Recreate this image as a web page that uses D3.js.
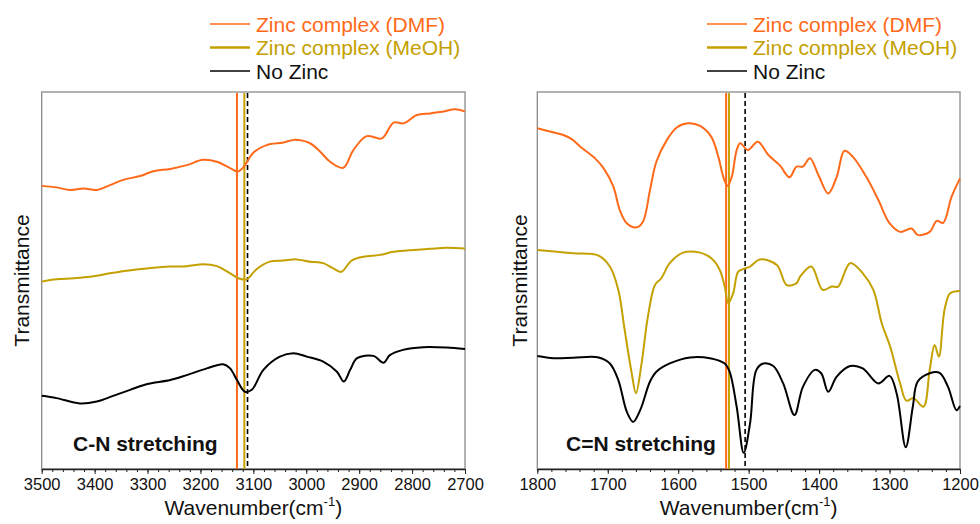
<!DOCTYPE html>
<html>
<head>
<meta charset="utf-8">
<script src="https://d3js.org/d3.v7.min.js"></script>
<style>
  body { margin: 0; background: #fff; }
  text { font-family: "Liberation Sans", Arial, sans-serif; }
</style>
</head>
<body>
<script>
var width = 980, height = 524;

// series names and colours
var seriesNames = ["Zinc complex (DMF)", "Zinc complex (MeOH)", "No Zinc"];
var seriesColors = ["#ff6a1a", "#c4a000", "#000000"];

// C-N stretching panel, [wavenumber, transmittance (a.u.)]
var cnDmf = [[3500,75.1],[3472,74.7],[3446,74.0],[3421,74.4],[3396,74.0],[3371,75.3],[3346,76.7],[3314,77.7],[3289,79.0],[3257,79.6],[3226,80.6],[3195,82.0],[3169,81.5],[3144,79.8],[3130,78.9],[3119,80.0],[3100,83.9],[3075,85.9],[3043,86.6],[3024,87.3],[2993,86.4],[2974,84.2],[2955,81.5],[2930,79.9],[2911,84.6],[2886,88.3],[2857,87.7],[2835,91.9],[2816,91.7],[2791,93.9],[2766,94.3],[2741,94.8],[2719,95.4],[2700,94.8]];
var cnMeoh = [[3500,49.7],[3472,50.3],[3440,50.6],[3409,51.0],[3371,51.9],[3339,52.6],[3302,53.2],[3257,53.7],[3226,53.8],[3195,54.3],[3169,53.8],[3144,51.9],[3128,50.6],[3113,50.3],[3094,53.0],[3069,55.0],[3043,55.3],[3018,55.6],[2993,55.0],[2968,54.6],[2949,53.2],[2934,52.3],[2914,55.3],[2892,56.3],[2861,56.8],[2835,57.6],[2798,58.1],[2766,58.4],[2735,58.7],[2700,58.5]];
var cnNoZn = [[3500,19.4],[3472,18.8],[3428,17.4],[3396,17.9],[3365,19.4],[3333,21.0],[3302,22.5],[3257,23.6],[3226,24.9],[3188,26.7],[3157,27.8],[3144,26.7],[3131,23.6],[3116,20.5],[3103,21.0],[3081,26.3],[3050,29.8],[3024,30.7],[2999,29.8],[2968,28.5],[2942,25.8],[2929,23.2],[2917,26.3],[2904,29.4],[2873,30.0],[2854,28.2],[2842,30.2],[2817,31.6],[2779,32.3],[2735,32.2],[2700,31.8]];
var cnMarkers = [3131, 3117, 3111];

// C=N stretching panel
var ccDmf = [[1800,90.4],[1782,89.5],[1763,88.6],[1751,87.5],[1739,85.5],[1718,82.4],[1706,79.8],[1692,74.9],[1683,68.7],[1673,65.2],[1659,64.1],[1650,65.6],[1640,74.0],[1631,81.5],[1616,87.3],[1602,90.6],[1586,91.7],[1569,91.0],[1553,88.1],[1543,82.8],[1536,77.5],[1530,75.1],[1524,77.5],[1517,84.6],[1512,86.4],[1501,84.6],[1487,86.8],[1472,83.3],[1456,80.6],[1442,77.4],[1432,80.2],[1423,80.2],[1413,82.4],[1401,78.0],[1387,73.1],[1375,77.5],[1364,84.4],[1352,82.8],[1333,77.5],[1316,71.4],[1300,65.2],[1285,62.9],[1269,63.8],[1260,62.1],[1243,62.9],[1233,65.8],[1224,65.3],[1212,72.2],[1200,77.1]];
var ccMeoh = [[1800,58.1],[1772,57.6],[1749,57.2],[1713,56.6],[1697,53.7],[1685,47.5],[1676,36.9],[1666,25.4],[1660,20.1],[1652,28.0],[1643,40.4],[1633,48.8],[1624,50.6],[1612,54.6],[1593,57.4],[1569,57.4],[1553,55.9],[1541,52.8],[1534,48.4],[1529,44.0],[1522,46.6],[1515,52.3],[1508,53.0],[1498,53.7],[1484,55.6],[1460,54.1],[1446,48.8],[1432,49.3],[1427,51.0],[1411,53.7],[1395,47.5],[1382,48.4],[1373,48.4],[1356,54.6],[1338,51.9],[1323,47.5],[1311,38.6],[1299,32.4],[1285,22.7],[1276,18.1],[1266,18.8],[1252,16.5],[1243,26.3],[1236,32.9],[1230,29.8],[1222,42.2],[1214,46.6],[1200,47.2]];
var ccNoZn = [[1800,30.0],[1777,29.4],[1749,29.5],[1713,29.6],[1697,28.0],[1685,23.6],[1673,15.2],[1664,12.5],[1654,15.6],[1640,23.2],[1631,25.8],[1612,28.0],[1583,29.6],[1555,29.4],[1534,28.0],[1527,25.8],[1517,16.5],[1507,4.3],[1498,12.1],[1489,26.3],[1479,28.0],[1465,27.3],[1451,22.7],[1435,14.3],[1423,21.8],[1406,26.3],[1397,25.4],[1387,20.5],[1375,24.5],[1356,27.3],[1338,26.7],[1316,22.7],[1300,24.7],[1290,20.1],[1277,5.8],[1267,16.5],[1260,23.2],[1243,25.4],[1229,25.5],[1217,21.8],[1205,15.6],[1200,16.7]];
var ccMarkers = [1532, 1528, 1505];

var panels = [
  { x0: 41.7, x1: 465, domain: [3500, 2700], series: [cnDmf, cnMeoh, cnNoZn], markers: cnMarkers,
    note: "C-N stretching", noteX: 73, yLabelX: 22, legendX: 210 },
  { x0: 537.3, x1: 960, domain: [1800, 1200], series: [ccDmf, ccMeoh, ccNoZn], markers: ccMarkers,
    note: "C=N stretching", noteX: 566, yLabelX: 520, legendX: 707 }
];

var plotTop = 92, plotBottom = 469;

var svg = d3.select("body").append("svg")
  .attr("width", width)
  .attr("height", height);

var y = d3.scaleLinear().domain([0, 100]).range([plotBottom, plotTop]);

panels.forEach(function(p) {
  var x = d3.scaleLinear().domain(p.domain).range([p.x0, p.x1]);
  var g = svg.append("g");

  // frame
  g.append("rect")
    .attr("x", p.x0).attr("y", plotTop)
    .attr("width", p.x1 - p.x0).attr("height", plotBottom - plotTop)
    .attr("fill", "none").attr("stroke", "#8a8a8a").attr("stroke-width", 1.3);

  // minor ticks
  var lo = Math.min(p.domain[0], p.domain[1]), hi = Math.max(p.domain[0], p.domain[1]);
  g.append("g")
    .attr("transform", "translate(0," + plotBottom + ")")
    .call(d3.axisBottom(x).tickValues(d3.range(lo, hi + 1, 20)).tickSize(3).tickFormat(""))
    .call(function(a) { a.select(".domain").remove(); a.selectAll("line").attr("stroke", "#222"); });

  // major ticks and labels
  var ax = g.append("g")
    .attr("transform", "translate(0," + plotBottom + ")")
    .call(d3.axisBottom(x).tickValues(d3.range(lo, hi + 1, 100)).tickSize(5).tickSizeOuter(0).tickPadding(4).tickFormat(d3.format("d")));
  ax.select(".domain").attr("stroke", "#222").attr("stroke-width", 1.3);
  ax.selectAll("line").attr("stroke", "#222");
  ax.selectAll("text").attr("font-size", 16.5).attr("fill", "#111")
    .style("font-family", "'Liberation Sans', Arial, sans-serif");

  // axis titles
  var xt = g.append("text")
    .attr("x", (p.x0 + p.x1) / 2).attr("y", 515)
    .attr("text-anchor", "middle").attr("font-size", 21).attr("fill", "#111")
    .text("Wavenumber(cm");
  xt.append("tspan").attr("font-size", 13).attr("dy", -9).text("-1");
  xt.append("tspan").attr("dy", 9).text(")");

  g.append("text")
    .attr("transform", "translate(" + (p.yLabelX + 7) + "," + ((plotTop + plotBottom) / 2) + ") rotate(-90)")
    .attr("text-anchor", "middle").attr("font-size", 21).attr("fill", "#111")
    .text("Transmittance");

  // marker lines
  p.markers.forEach(function(m, i) {
    g.append("line")
      .attr("x1", x(m)).attr("x2", x(m))
      .attr("y1", plotTop + 1).attr("y2", plotBottom)
      .attr("stroke", seriesColors[i])
      .attr("stroke-width", i === 2 ? 1.6 : 2)
      .attr("stroke-dasharray", i === 2 ? "5,3" : null);
  });

  // spectra
  var line = d3.line()
    .x(function(d) { return x(d[0]); })
    .y(function(d) { return y(d[1]); })
    .curve(d3.curveCatmullRom.alpha(0.5));

  p.series.forEach(function(s, i) {
    g.append("path")
      .datum(s)
      .attr("d", line)
      .attr("fill", "none")
      .attr("stroke", seriesColors[i])
      .attr("stroke-width", 2)
      .attr("stroke-linejoin", "round");
  });

  g.append("text")
    .attr("x", p.noteX).attr("y", 451)
    .attr("font-size", 21).attr("font-weight", "bold").attr("fill", "#111")
    .text(p.note);

  // legend
  var rows = [24, 47.5, 71];
  var legWidths = [1.4, 2.6, 1.6];
  seriesNames.forEach(function(name, i) {
    g.append("line")
      .attr("x1", p.legendX).attr("x2", p.legendX + 40)
      .attr("y1", rows[i]).attr("y2", rows[i])
      .attr("stroke", seriesColors[i]).attr("stroke-width", legWidths[i]);
    g.append("text")
      .attr("x", p.legendX + 46).attr("y", rows[i] + 7.5)
      .attr("font-size", 21)
      .attr("fill", i === 2 ? "#111" : seriesColors[i])
      .text(name);
  });
});
</script>
</body>
</html>
